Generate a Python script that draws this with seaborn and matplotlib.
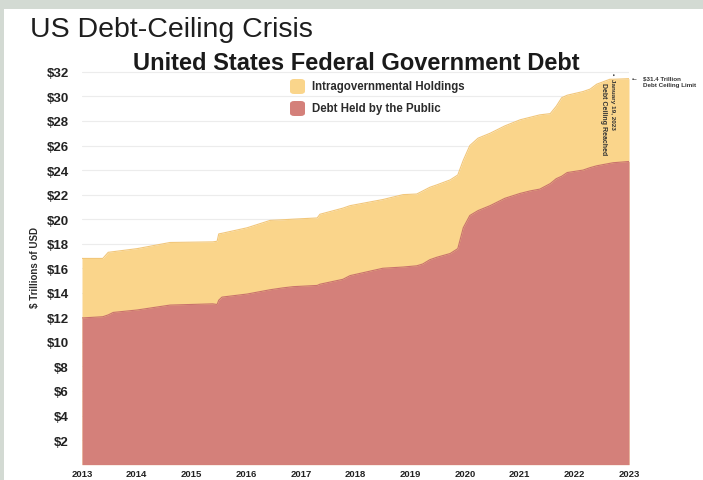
import numpy as np
import pandas as pd
import matplotlib
matplotlib.use("Agg")
import matplotlib.pyplot as plt
import seaborn as sns
from matplotlib.patches import Rectangle, FancyBboxPatch

# ---------------- data ----------------
years = [2013.00, 2013.38, 2013.48, 2013.57, 2014.01, 2014.61, 2015.39, 2015.47,
         2015.50, 2015.56, 2016.02, 2016.44, 2016.67, 2016.86, 2017.30, 2017.35,
         2017.77, 2017.90, 2018.50, 2018.87, 2019.12, 2019.23, 2019.36, 2019.49,
         2019.73, 2019.87, 2019.97, 2020.09, 2020.24, 2020.46, 2020.73, 2021.01,
         2021.19, 2021.37, 2021.56, 2021.67, 2021.77, 2021.87, 2022.16, 2022.29,
         2022.41, 2022.65, 2022.71, 2023.00]
public_debt = [11.95, 12.05, 12.2, 12.4, 12.6, 13.0, 13.1, 13.05,
               13.4, 13.65, 13.9, 14.25, 14.4, 14.5, 14.6, 14.7,
               15.1, 15.4, 16.0, 16.1, 16.2, 16.35, 16.7, 16.9,
               17.2, 17.6, 19.3, 20.3, 20.7, 21.1, 21.7, 22.1,
               22.3, 22.45, 22.9, 23.3, 23.5, 23.8, 24.0, 24.2,
               24.35, 24.55, 24.6, 24.7]
total_debt = [16.8, 16.8, 17.3, 17.35, 17.6, 18.1, 18.15, 18.2,
              18.8, 18.85, 19.3, 19.9, 19.95, 20.0, 20.1, 20.4,
              20.9, 21.1, 21.6, 22.0, 22.05, 22.3, 22.6, 22.8,
              23.2, 23.6, 24.8, 26.0, 26.6, 27.0, 27.6, 28.1,
              28.3, 28.5, 28.6, 29.2, 29.9, 30.1, 30.4, 30.6,
              31.0, 31.4, 31.4, 31.45]
series_labels = ["Intragovernmental Holdings", "Debt Held by the Public"]
ytick_vals = list(range(2, 33, 2))
ytick_labels = [f"${v}" for v in ytick_vals]
xtick_years = list(range(2013, 2024))
xtick_labels = [str(y) for y in xtick_years]

YEL = "#FAD58B"
RED = "#D4807A"

sns.set_theme(style="white")
plt.rcParams['font.family'] = ['Liberation Sans', 'DejaVu Sans']

W, H = 703, 481
fig = plt.figure(figsize=(W / 100, H / 100), dpi=100)
fig.patch.set_facecolor("white")

# grey frame of the slide
fig.patches.append(Rectangle((0, 1 - 10 / H), 1, 10 / H, transform=fig.transFigure,
                             facecolor="#D3DAD3", edgecolor="none", zorder=0))
fig.patches.append(Rectangle((0, 0), 4 / W, 1, transform=fig.transFigure,
                             facecolor="#D3DAD3", edgecolor="none", zorder=0))

ax = fig.add_axes([82 / W, 1 - 465.6 / H, (629 - 82) / W, (465.6 - 68) / H])
df = pd.DataFrame({"year": years, "public": public_debt, "total": total_debt})

ax.fill_between(df["year"], 0, df["total"], color=YEL, lw=0, zorder=2)
ax.fill_between(df["year"], 0, df["public"], color=RED, lw=0, zorder=3)
sns.lineplot(data=df, x="year", y="total", color="#F2C77A", lw=0.8, ax=ax, zorder=4)
sns.lineplot(data=df, x="year", y="public", color="#C9736D", lw=0.8, ax=ax, zorder=4)

ax.set_xlim(2013, 2023)
ax.set_ylim(0, 32.4)
ax.set_xticks(xtick_years, xtick_labels)
ax.set_yticks(ytick_vals, ytick_labels)
ax.tick_params(axis="both", length=0)
ax.tick_params(axis="y", pad=9.5, labelsize=9.5, labelcolor="#222222")
ax.tick_params(axis="x", pad=3, labelsize=6.8, labelcolor="#222222")
for lab in ax.get_xticklabels() + ax.get_yticklabels():
    lab.set_fontweight("bold")
ax.set_xlabel("")
ax.set_ylabel("")
ax.yaxis.grid(True, color="#ECECEC", lw=0.8)
ax.set_axisbelow(True)
for s in ax.spines.values():
    s.set_visible(False)
ax.set_facecolor("white")

# titles
fig.text(30 / W, 1 - 30 / H, "US Debt-Ceiling Crisis", fontsize=20.5, color="#1e1e1e",
         ha="left", va="center")
fig.text(356 / W, 1 - 64 / H, "United States Federal Government Debt", fontsize=17,
         fontweight="bold", color="#1a1a1a", ha="center", va="center")
fig.text(35 / W, 1 - 268 / H, "$ Trillions of USD", rotation=90, fontsize=7,
         fontweight="bold", color="#2b2b2b", ha="center", va="center")

# legend
for (y0, col, lab) in [(79, YEL, series_labels[0]), (101, RED, series_labels[1])]:
    fig.patches.append(FancyBboxPatch((290 / W, 1 - (y0 + 16) / H), 15 / W, 15 / H,
                                      boxstyle="round,pad=0,rounding_size=0.006",
                                      transform=fig.transFigure, facecolor=col,
                                      edgecolor="none", zorder=5))
    fig.text(312 / W, 1 - (y0 + 8) / H, lab, fontsize=8.3, fontweight="bold",
             color="#2b2b2b", ha="left", va="center")

# annotations
fig.text(632 / W, 1 - 79 / H, "•–", fontsize=4.5, fontweight="bold", color="#333",
         ha="left", va="center")
fig.text(643 / W, 1 - 79 / H, "$31.4 Trillion", fontsize=4.5, fontweight="bold",
         color="#333", ha="left", va="center")
fig.text(643 / W, 1 - 85.5 / H, "Debt Ceiling Limit", fontsize=4.5, fontweight="bold",
         color="#333", ha="left", va="center")
fig.text(613 / W, 1 - 73 / H, "•  January 19, 2023", rotation=270, fontsize=4.6,
         fontweight="bold", color="#333", ha="center", va="top")
fig.text(603 / W, 1 - 83 / H, "Debt Ceiling Reached", rotation=270, fontsize=5,
         fontweight="bold", color="#333", ha="center", va="top")

fig.savefig("out.png", dpi=100)
